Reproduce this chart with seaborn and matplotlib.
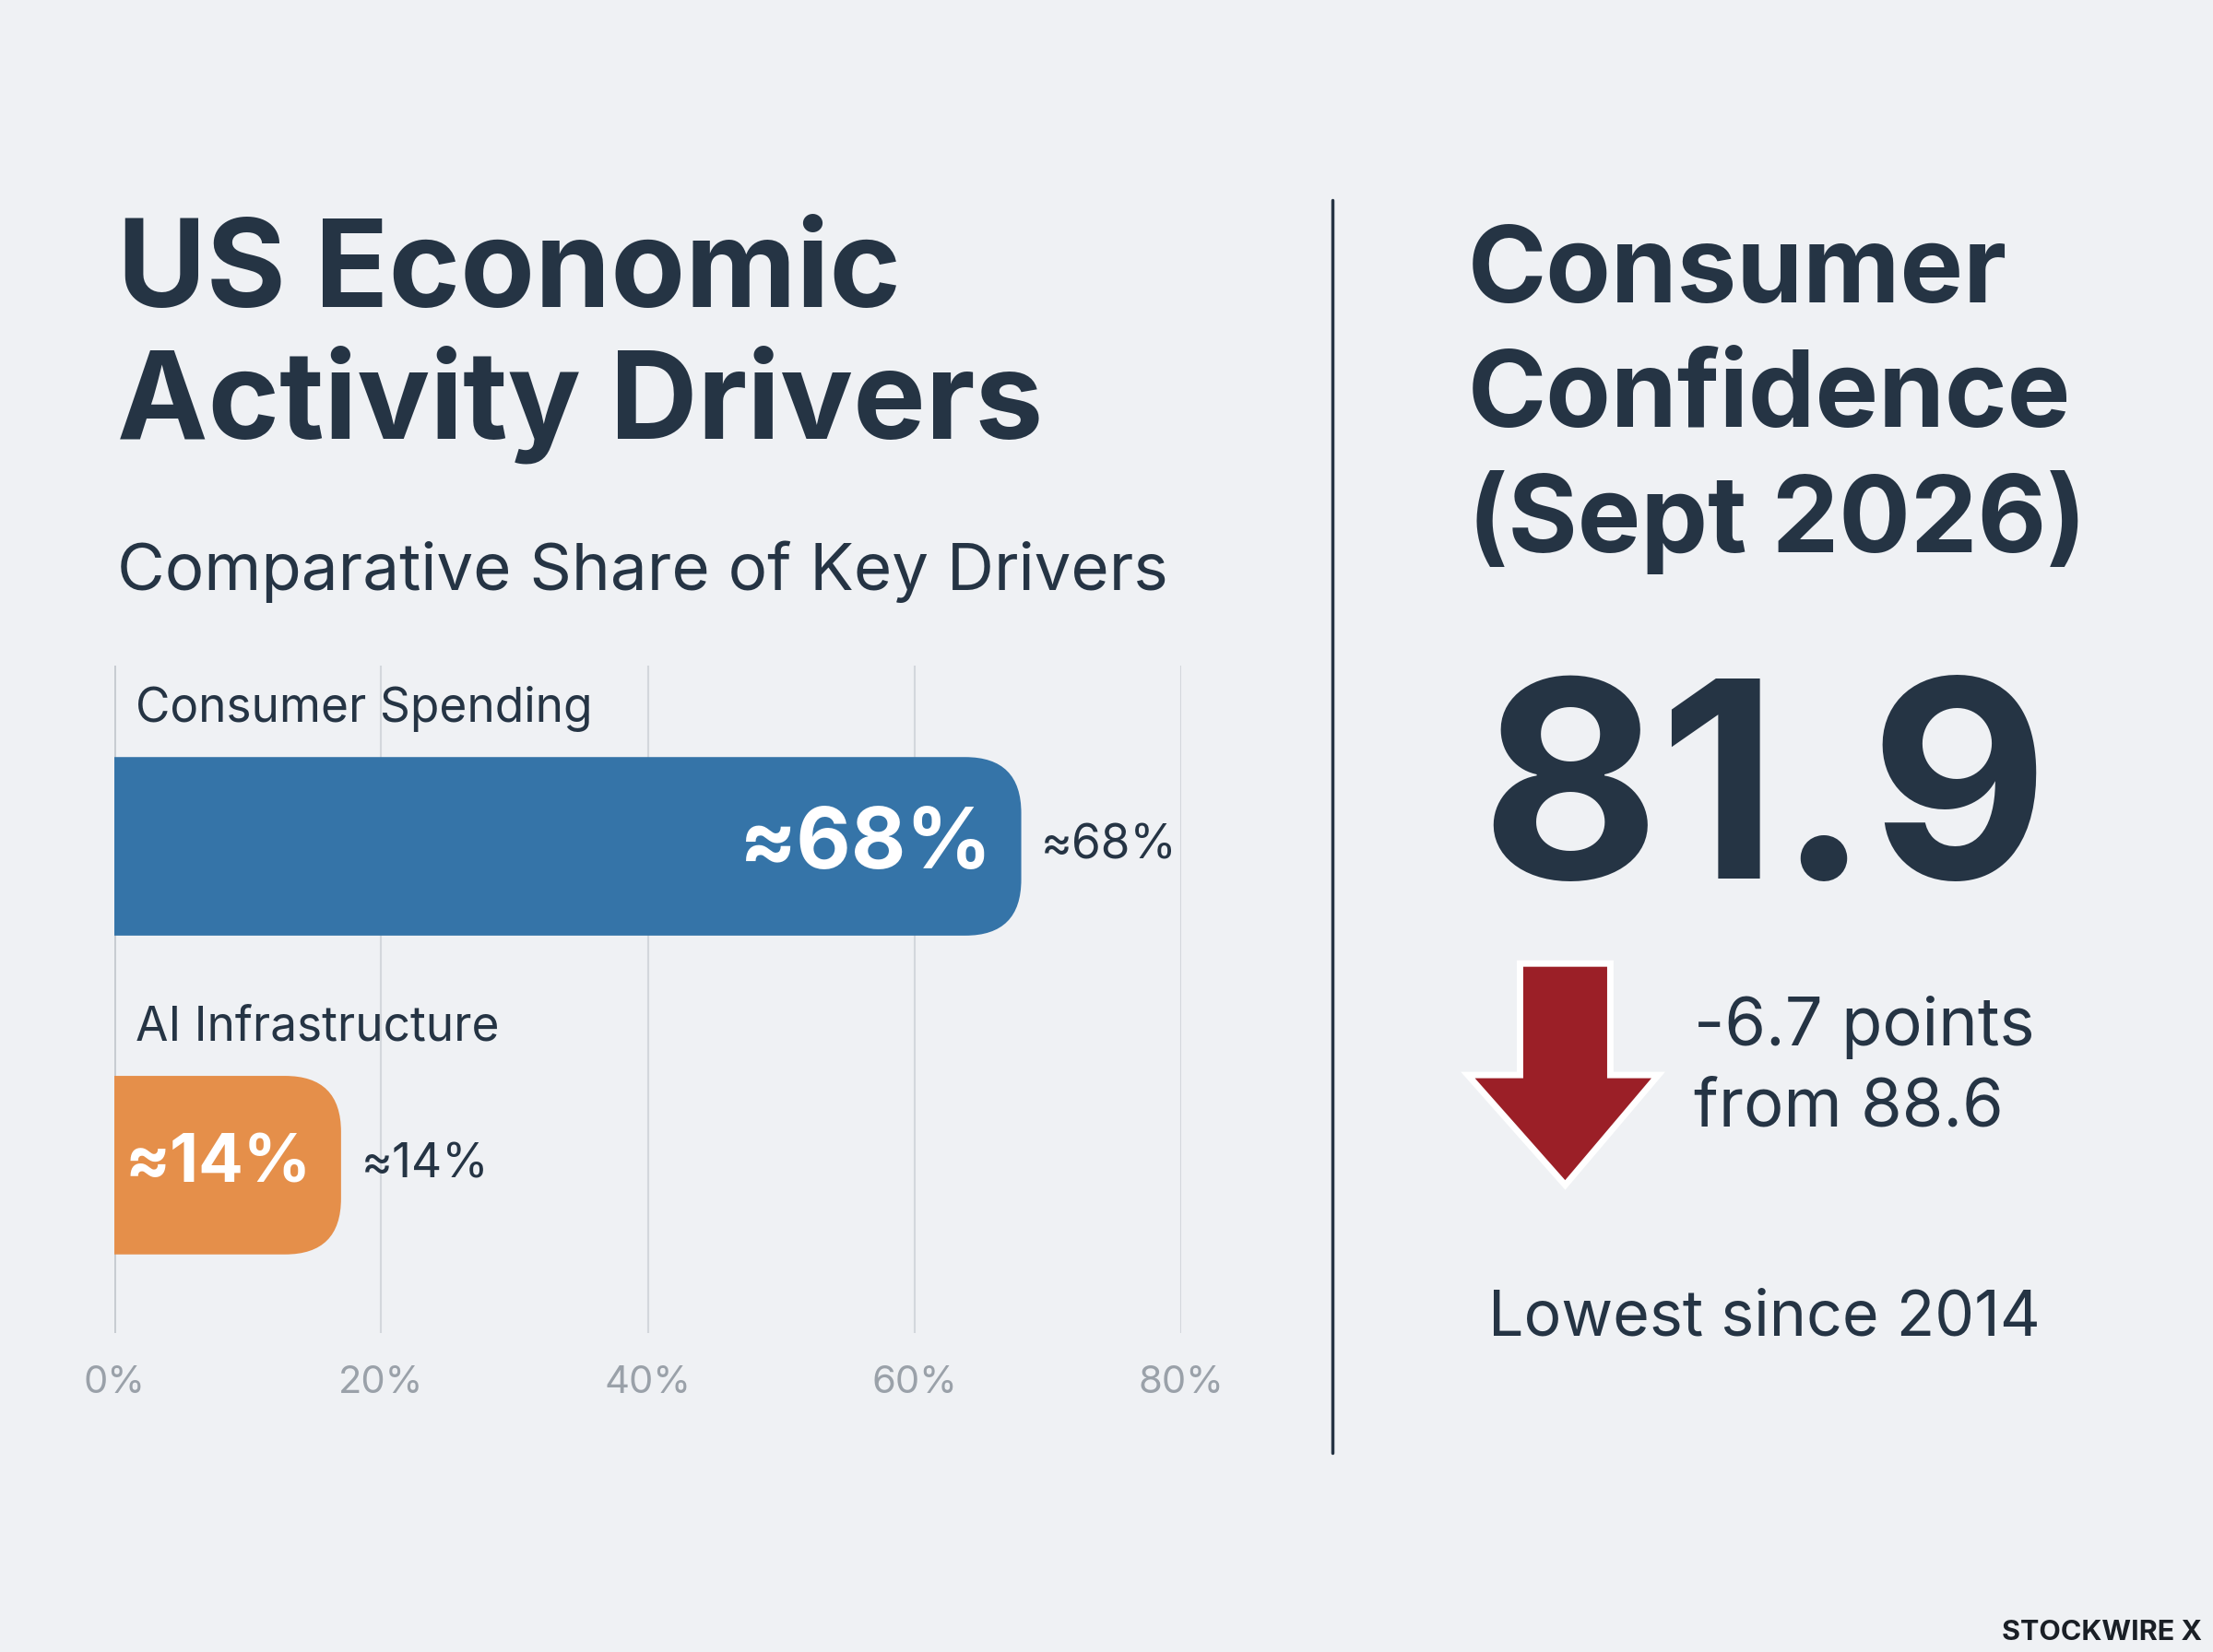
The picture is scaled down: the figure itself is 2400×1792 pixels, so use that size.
import matplotlib
matplotlib.use("Agg")
import matplotlib.pyplot as plt
import seaborn as sns
import pandas as pd
from matplotlib.patches import FancyBboxPatch, Polygon

categories = ["Consumer Spending", "AI Infrastructure"]
shares = [68, 14]
bar_labels = ["≈68%", "≈14%"]
tick_vals = [0, 20, 40, 60, 80]
tick_labels = ["0%", "20%", "40%", "60%", "80%"]
confidence = "81.9"
change_text = "-6.7 points\nfrom 88.6"

BG = "#eff1f4"
DARK = "#253444"
colors = ["#3574a8", "#e58f4a"]
MIN_BAR = 17  # minimum drawn bar length so the inner label fits

sns.set_theme(style="white")
plt.rcParams["font.family"] = ["Inter", "DejaVu Sans"]

W, H = 1568, 1171
fig = plt.figure(figsize=(24, 17.92), dpi=100, facecolor=BG)
def fx(x): return x / W
def fy(y): return 1 - y / H

fig.text(fx(83), fy(195), "US Economic", fontsize=95, weight="bold", color=DARK, va="center")
fig.text(fx(83), fy(287), "Activity Drivers", fontsize=95, weight="bold", color=DARK, va="center")
fig.text(fx(83), fy(405), "Comparative Share of Key Drivers", fontsize=51, color=DARK, va="center")

ax = fig.add_axes([fx(81), fy(945), fx(837) - fx(81), (945 - 472) / H])
ax.set_facecolor(BG)
df = pd.DataFrame({"cat": categories, "val": shares})
sns.barplot(data=df, y="cat", x="val", hue="cat", palette=colors, ax=ax,
            orient="h", width=0.56, legend=False)
ax.set_xlim(0, 80)
ax.set_ylim(1.527, -0.566)
for s in ax.spines.values():
    s.set_visible(False)
ax.set_xticks(tick_vals)
ax.set_xticklabels([])
ax.set_yticks([])
ax.set_xlabel(""); ax.set_ylabel("")
ax.tick_params(length=0)
for v in tick_vals:
    ax.axvline(v, color="#d3d7dc", lw=1.5, zorder=0)
ax.axvline(0, color="#c5cad0", lw=2, zorder=0)

r = 4.2
asp = (2.093 / 473) / (80 / 756)
for p, c, lab, cat, i in zip(list(ax.patches), colors, bar_labels, categories, range(2)):
    y0, w, h = p.get_y(), max(p.get_width(), MIN_BAR), p.get_height()
    p.remove()
    fb = FancyBboxPatch((-10, y0), w + 10, h, boxstyle=f"round,pad=0,rounding_size={r}",
                        mutation_aspect=asp, fc=c, ec="none", zorder=2)
    ax.add_patch(fb)
    ax.text(w - 2.2, i, lab, color="white", fontsize=66 if i == 0 else 52, weight="bold",
            ha="right", va="center", zorder=3)
    ax.text(w + 1.5, i, lab, color=DARK, fontsize=37, ha="left", va="center", zorder=3)
    ax.text(1.6, i - 0.43, cat, color=DARK, fontsize=37, ha="left", va="center")
for v, t in zip(tick_vals, tick_labels):
    ax.text(v, 1.527 + 0.155, t, color="#9aa1a9", fontsize=30, ha="center", va="center", clip_on=False)

fig.add_artist(plt.Line2D([fx(944), fx(944)], [fy(142), fy(1030)], color=DARK, lw=2.5))

for y, t in zip([195, 283, 370], ["Consumer", "Confidence", "(Sept 2026)"]):
    fig.text(fx(1040), fy(y), t, fontsize=83, weight="bold", color=DARK, va="center")
fig.text(fx(1250), fy(572), confidence, fontsize=215, weight="bold", color=DARK, ha="center", va="center")
arrow = [(fx(1077), fy(683)), (fx(1141), fy(683)), (fx(1141), fy(762)), (fx(1175), fy(762)),
         (fx(1109), fy(840)), (fx(1040), fy(762)), (fx(1077), fy(762))]
fig.add_artist(Polygon(arrow, closed=True, transform=fig.transFigure, fc="#9b1f27", ec="white", lw=5))
fig.text(fx(1200), fy(728), "-6.7 points", fontsize=52, color=DARK, ha="left", va="center")
fig.text(fx(1200), fy(786), "from 88.6", fontsize=52, color=DARK, ha="left", va="center")
fig.text(fx(1250), fy(935), "Lowest since 2014", fontsize=49, color=DARK, ha="center", va="center")
fig.text(fx(1560), fy(1157), "STOCKWIRE X", fontsize=22, weight="bold", color="#1a1f26", ha="right", va="center")

fig.savefig("out.png", dpi=100, facecolor=BG)
